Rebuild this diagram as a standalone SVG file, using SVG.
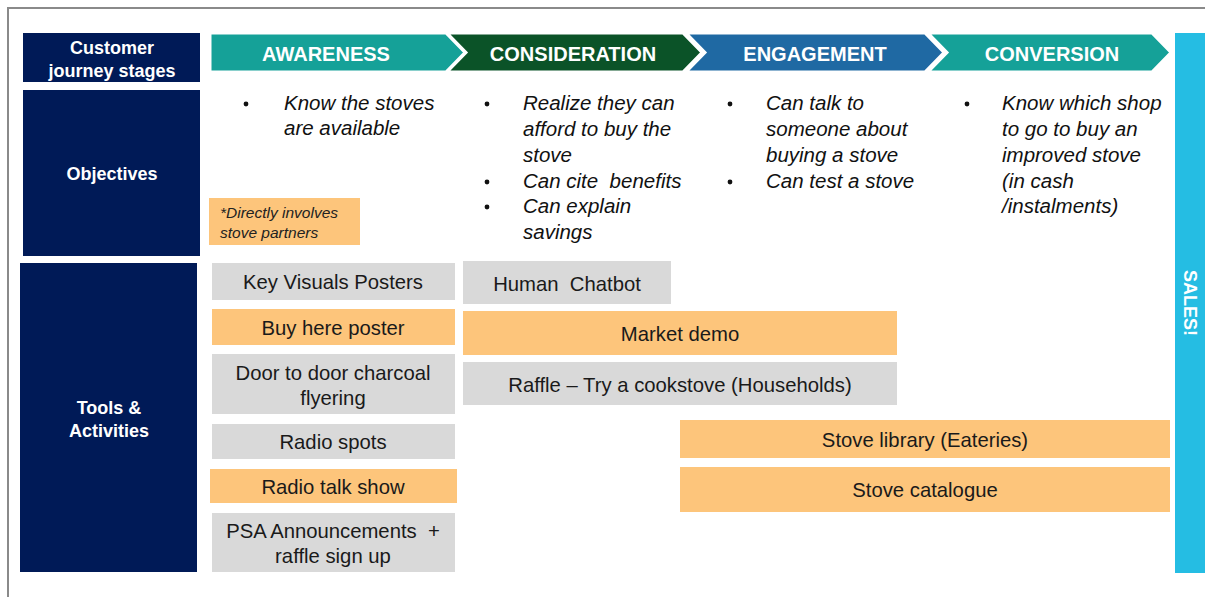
<svg xmlns="http://www.w3.org/2000/svg" width="1205" height="597" viewBox="0 0 1205 597">
<style>
.navy{fill:#001a57}
.nl{fill:#fff;font-family:"Liberation Sans",Arial,sans-serif;font-weight:bold;font-size:18px;text-anchor:middle}
.stage{fill:#fff;font-family:"Liberation Sans",Arial,sans-serif;font-weight:bold;font-size:20px;text-anchor:middle}
.chev{stroke:#fff;stroke-width:3;stroke-linejoin:miter}
.obj{fill:#111;font-family:"Liberation Sans",Arial,sans-serif;font-style:italic;font-size:20.5px}
.bul{fill:#111}
.gray{fill:#d9d9d9}
.orange{fill:#fdc57b}
.tl{fill:#1a1a1a;font-family:"Liberation Sans",Arial,sans-serif;font-size:20.3px;text-anchor:middle}
</style>
<rect x="0" y="0" width="1205" height="597" fill="#fff"/>
<path d="M8 597 V8 H1205" fill="none" stroke="#8a8a8a" stroke-width="2"/>

<g id="row-stages">
<rect class="navy" x="23" y="33" width="177" height="49"/>
<text class="nl" x="112" y="54">Customer</text>
<text class="nl" x="112" y="77">journey stages</text>
</g>
<g id="row-objectives">
<rect class="navy" x="23" y="90" width="177" height="166"/>
<text class="nl" x="112" y="180">Objectives</text>
</g>
<g id="row-tools">
<rect class="navy" x="20" y="263" width="177" height="309"/>
<text class="nl" x="109" y="414">Tools &amp;</text>
<text class="nl" x="109" y="437">Activities</text>
</g>

<g id="stage-awareness">
<polygon class="chev" fill="#15a198" points="210,33 446,33 465,52.5 446,72 210,72"/>
<text class="stage" x="326" y="61">AWARENESS</text>
</g>
<g id="stage-consideration">
<polygon class="chev" fill="#0b5328" points="447,33 683,33 702,52.5 683,72 447,72 466,52.5"/>
<text class="stage" x="573" y="61">CONSIDERATION</text>
</g>
<g id="stage-engagement">
<polygon class="chev" fill="#1f69a3" points="686,33 925,33 944,52.5 925,72 686,72 705,52.5"/>
<text class="stage" x="815" y="61">ENGAGEMENT</text>
</g>
<g id="stage-conversion">
<polygon class="chev" fill="#15a198" points="928,33 1152,33 1171,52.5 1152,72 928,72 947,52.5"/>
<text class="stage" x="1052" y="61">CONVERSION</text>
</g>

<g id="sales">
<rect x="1175" y="33" width="30" height="540" fill="#25bde3"/>
<text transform="translate(1184,303) rotate(90)" fill="#fff" font-family="Liberation Sans, Arial, sans-serif" font-weight="bold" font-size="18" text-anchor="middle">SALES!</text>
</g>

<g id="obj-awareness">
<circle class="bul" cx="246" cy="104" r="2.4"/>
<text class="obj" x="284" y="110">Know the stoves</text>
<text class="obj" x="284" y="135">are available</text>
</g>
<g id="obj-consideration">
<circle class="bul" cx="487" cy="104" r="2.4"/>
<circle class="bul" cx="487" cy="182" r="2.4"/>
<circle class="bul" cx="487" cy="207" r="2.4"/>
<text class="obj" x="523" y="110">Realize they can</text>
<text class="obj" x="523" y="136">afford to buy the</text>
<text class="obj" x="523" y="162">stove</text>
<text class="obj" x="523" y="188" xml:space="preserve">Can cite  benefits</text>
<text class="obj" x="523" y="213">Can explain</text>
<text class="obj" x="523" y="239">savings</text>
</g>
<g id="obj-engagement">
<circle class="bul" cx="730" cy="104" r="2.4"/>
<circle class="bul" cx="730" cy="182" r="2.4"/>
<text class="obj" x="766" y="110">Can talk to</text>
<text class="obj" x="766" y="136">someone about</text>
<text class="obj" x="766" y="162">buying a stove</text>
<text class="obj" x="766" y="188">Can test a stove</text>
</g>
<g id="obj-conversion">
<circle class="bul" cx="967" cy="104" r="2.4"/>
<text class="obj" x="1002" y="110">Know which shop</text>
<text class="obj" x="1002" y="136">to go to buy an</text>
<text class="obj" x="1002" y="162">improved stove</text>
<text class="obj" x="1002" y="188">(in cash</text>
<text class="obj" x="1002" y="213">/instalments)</text>
</g>

<g id="note">
<rect class="orange" x="209" y="198" width="151" height="47"/>
<text x="220" y="218" fill="#222" font-family="Liberation Sans, Arial, sans-serif" font-style="italic" font-size="15.5">*Directly involves</text>
<text x="220" y="238" fill="#222" font-family="Liberation Sans, Arial, sans-serif" font-style="italic" font-size="15.5">stove partners</text>
</g>

<g id="t-key-visuals"><rect class="gray" x="212" y="263" width="243" height="37"/><text class="tl" x="333" y="289">Key Visuals Posters</text></g>
<g id="t-buy-here"><rect class="orange" x="212" y="309" width="243" height="36"/><text class="tl" x="333" y="335">Buy here poster</text></g>
<g id="t-door"><rect class="gray" x="212" y="354" width="243" height="60"/><text class="tl" x="333" y="380">Door to door charcoal</text><text class="tl" x="333" y="405">flyering</text></g>
<g id="t-radio-spots"><rect class="gray" x="212" y="424" width="243" height="35"/><text class="tl" x="333" y="449">Radio spots</text></g>
<g id="t-radio-talk"><rect class="orange" x="210" y="469" width="247" height="34"/><text class="tl" x="333" y="494">Radio talk show</text></g>
<g id="t-psa"><rect class="gray" x="212" y="513" width="243" height="59"/><text class="tl" x="333" y="538" xml:space="preserve">PSA Announcements  +</text><text class="tl" x="333" y="563">raffle sign up</text></g>
<g id="t-chatbot"><rect class="gray" x="463" y="261" width="208" height="43"/><text class="tl" x="567" y="291" xml:space="preserve">Human  Chatbot</text></g>
<g id="t-market"><rect class="orange" x="463" y="311" width="434" height="44"/><text class="tl" x="680" y="341">Market demo</text></g>
<g id="t-raffle"><rect class="gray" x="463" y="362" width="434" height="43"/><text class="tl" x="680" y="392">Raffle – Try a cookstove (Households)</text></g>
<g id="t-library"><rect class="orange" x="680" y="420" width="490" height="38"/><text class="tl" x="925" y="447">Stove library (Eateries)</text></g>
<g id="t-catalogue"><rect class="orange" x="680" y="467" width="490" height="45"/><text class="tl" x="925" y="497">Stove catalogue</text></g>

<g id="connectors"></g>
</svg>
